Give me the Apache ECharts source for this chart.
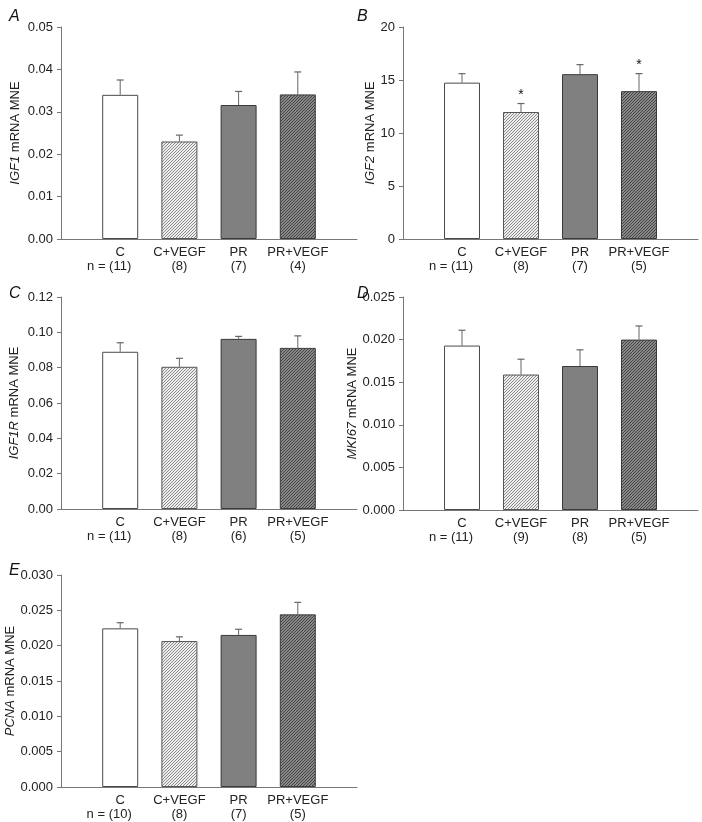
<!DOCTYPE html>
<html>
<head>
<meta charset="utf-8">
<script src="https://cdn.jsdelivr.net/npm/echarts@6/dist/echarts.min.js"></script>
<style>
html,body{margin:0;padding:0;background:#fff;}
#chart{width:702px;height:822px;}
</style>
</head>
<body>
<div id="chart"></div>
<script>
// ---- data ----
const categories = ['C', 'C+VEGF', 'PR', 'PR+VEGF'];
const panelLetters = ['A', 'B', 'C', 'D', 'E'];
const geneLabels = ['IGF1', 'IGF2', 'IGF1R', 'MKI67', 'PCNA'];

const meanA = [0.0340, 0.0230, 0.0316, 0.0341];
const errA  = [0.0035, 0.0015, 0.0032, 0.0053];
const nA    = ['11', '8', '7', '4'];

const meanB = [14.75, 11.98, 15.55, 13.95];
const errB  = [0.85, 0.80, 0.90, 1.65];
const nB    = ['11', '8', '7', '5'];
const sigB  = [false, true, false, true];

const meanC = [0.0890, 0.0805, 0.0963, 0.0912];
const errC  = [0.0051, 0.0048, 0.0014, 0.0068];
const nC    = ['11', '8', '6', '5'];

const meanD = [0.0193, 0.0159, 0.0169, 0.0200];
const errD  = [0.0018, 0.0018, 0.0019, 0.0016];
const nD    = ['11', '9', '8', '5'];

const meanE = [0.02245, 0.02065, 0.02152, 0.02443];
const errE  = [0.0008, 0.0006, 0.0008, 0.0017];
const nE    = ['10', '8', '7', '5'];

const yMax      = [0.05, 20, 0.12, 0.025, 0.030];
const yInterval = [0.01, 5, 0.02, 0.005, 0.005];
const yDecimals = [2, 0, 2, 3, 3];

// ---- styles ----
function hatch(bg, fg) {
  const c = document.createElement('canvas');
  c.width = 3; c.height = 3;
  const g = c.getContext('2d');
  g.fillStyle = bg; g.fillRect(0, 0, 3, 3);
  g.fillStyle = fg;
  g.fillRect(0, 2, 1, 1); g.fillRect(1, 1, 1, 1); g.fillRect(2, 0, 1, 1);
  return { image: c, repeat: 'repeat' };
}
const fills = ['#ffffff', hatch('#eeeeee', '#8a8a8a'), '#808080', hatch('#888888', '#444444')];
const borders = ['#4a4a4a', '#555555', '#3a3a3a', '#3a3a3a'];

const grids = [
  { left: 61,  top: 27,  width: 296, height: 212 },
  { left: 403, top: 27,  width: 295, height: 212 },
  { left: 61,  top: 297, width: 296, height: 212 },
  { left: 403, top: 297, width: 295, height: 213 },
  { left: 61,  top: 575, width: 296, height: 212 }
];
const letterPos = [[4, 4], [352, 4], [4, 281], [352, 281], [4, 558]];
const nameGaps = [39, 23, 40, 42, 39];
const tickFont = [13, 13, 13, 13, 13];

const means = [meanA, meanB, meanC, meanD, meanE];
const errs  = [errA, errB, errC, errD, errE];
const ns    = [nA, nB, nC, nD, nE];
const sigs  = [null, sigB, null, null, null];

const FONT = 'Liberation Sans, Arial, sans-serif';

const option = {
  animation: false,
  backgroundColor: '#ffffff',
  title: panelLetters.map((L, i) => ({
    text: L, left: letterPos[i][0], top: letterPos[i][1],
    textStyle: { fontSize: 16, fontStyle: 'italic', fontWeight: 'normal', color: '#111', fontFamily: FONT }
  })),
  grid: grids,
  xAxis: grids.map((g, i) => ({
    type: 'value', gridIndex: i, min: 0, max: 5, interval: 1,
    splitLine: { show: false },
    axisTick: { show: false },
    axisLine: { onZero: false, lineStyle: { color: '#777', width: 1 } },
    axisLabel: {
      margin: 6, lineHeight: 14, color: '#222', fontSize: 13, fontFamily: FONT,
      formatter: function (v) {
        if (v < 1 || v > 4) return '';
        const k = v - 1;
        if (k === 0) return '{t|' + categories[k] + '}\n{t|n = }{t|(' + ns[i][k] + ')}{h|n = }';
        return '{t|' + categories[k] + '}\n{t|(' + ns[i][k] + ')}';
      },
      rich: {
        t: { fontSize: 13, color: '#222', fontFamily: FONT, lineHeight: 14 },
        h: { fontSize: 13, color: 'rgba(0,0,0,0)', fontFamily: FONT, lineHeight: 14 }
      }
    }
  })),
  yAxis: grids.map((g, i) => ({
    type: 'value', gridIndex: i, min: 0, max: yMax[i], interval: yInterval[i],
    splitLine: { show: false },
    axisLine: { show: true, lineStyle: { color: '#777', width: 1 } },
    axisTick: { show: true, length: 4, inside: false, lineStyle: { color: '#777' } },
    axisLabel: {
      margin: 8, color: '#222', fontSize: tickFont[i], fontFamily: FONT,
      formatter: v => v.toFixed(yDecimals[i])
    },
    name: '{i|' + geneLabels[i] + '}{r| mRNA MNE}',
    nameLocation: 'middle', nameGap: nameGaps[i],
    nameTextStyle: {
      fontSize: 13, color: '#222', fontFamily: FONT,
      rich: {
        i: { fontStyle: 'italic', fontSize: 13, color: '#222', fontFamily: FONT },
        r: { fontSize: 13, color: '#222', fontFamily: FONT }
      }
    }
  })),
  series: []
};

means.forEach((m, i) => {
  option.series.push({
    type: 'bar', xAxisIndex: i, yAxisIndex: i, barWidth: 36, z: 2,
    data: m.map((v, k) => ({
      value: [k + 1, v],
      itemStyle: { color: fills[k], borderColor: borders[k], borderWidth: 1 }
    }))
  });
  option.series.push({
    type: 'custom', xAxisIndex: i, yAxisIndex: i, z: 3,
    data: m.map((v, k) => [k + 1, v, v + errs[i][k], sigs[i] && sigs[i][k] ? 1 : 0]),
    renderItem: function (params, api) {
      const base = api.coord([api.value(0), api.value(1)]);
      const top = api.coord([api.value(0), api.value(2)]);
      const children = [
        { type: 'line', shape: { x1: base[0], y1: base[1], x2: top[0], y2: top[1] }, style: { stroke: '#666', lineWidth: 1 } },
        { type: 'line', shape: { x1: top[0] - 3.5, y1: top[1], x2: top[0] + 3.5, y2: top[1] }, style: { stroke: '#666', lineWidth: 1.2 } }
      ];
      if (api.value(3) === 1) {
        children.push({ type: 'text', style: { text: '*', x: top[0], y: top[1] - 1, textAlign: 'center', textVerticalAlign: 'bottom', fontSize: 14, fill: '#111', fontFamily: FONT } });
      }
      return { type: 'group', children: children };
    }
  });
});

const chart = echarts.init(document.getElementById('chart'), null, { renderer: 'canvas' });
chart.setOption(option);
</script>
</body>
</html>
